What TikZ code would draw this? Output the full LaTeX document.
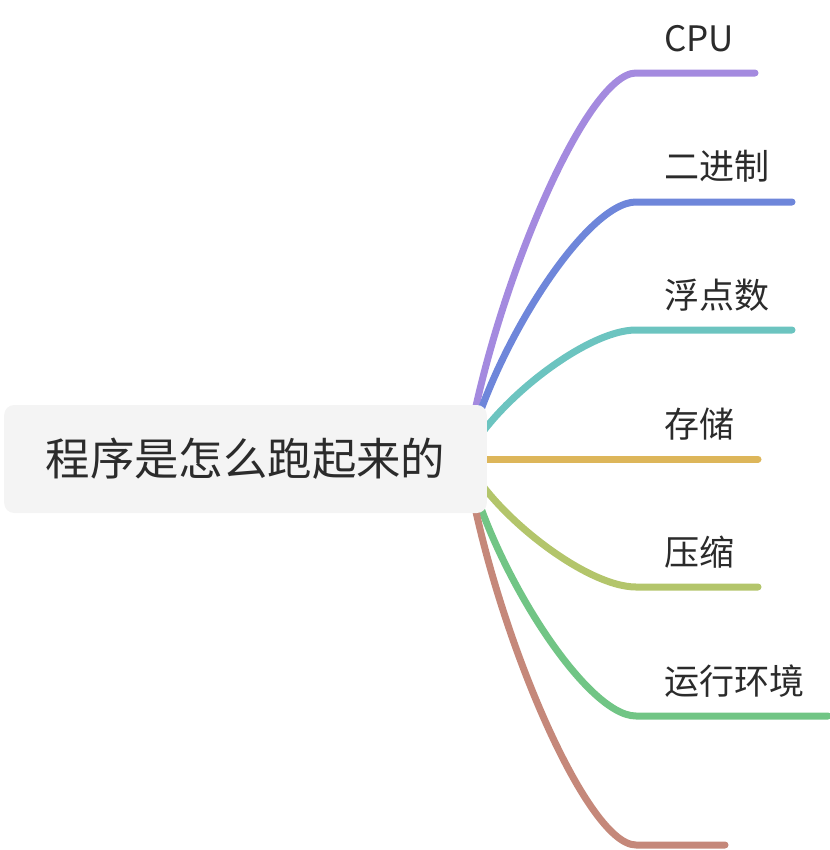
\documentclass[tikz,border=0pt]{standalone}
\usepackage{fontspec}
\setmainfont{Noto Sans CJK SC}
\usetikzlibrary{calc}
\definecolor{cpurple}{HTML}{A48ADF}
\definecolor{cblue}{HTML}{6E86DA}
\definecolor{cteal}{HTML}{6CC4C0}
\definecolor{cgold}{HTML}{DDB65A}
\definecolor{cyg}{HTML}{B3C56B}
\definecolor{cgreen}{HTML}{71C585}
\definecolor{cbrown}{HTML}{C5887A}
\definecolor{rootfill}{HTML}{F4F4F4}
\definecolor{txt}{HTML}{2B2B2B}
\begin{document}
\begin{tikzpicture}[x=0.75pt,y=-0.75pt,
  branch/.style={line width=5.25pt,line cap=round,line join=round},
  rootbox/.style={fill=rootfill,rounded corners=7.5pt,minimum width=362pt,minimum height=81pt,inner sep=0pt,font=\fontsize{33.3}{36}\selectfont,text=txt},
  lbl/.style={anchor=west,inner sep=0pt,font=\fontsize{26.3}{29}\selectfont,text=txt}]
\useasboundingbox (0,0) rectangle (830,850);
\coordinate (hub) at (466,459);
% branch ends
\coordinate (e1) at (755,73);
\coordinate (e2) at (792,202);
\coordinate (e3) at (792,330);
\coordinate (e4) at (758,459);
\coordinate (e5) at (758,587);
\coordinate (e6) at (828,716);
\coordinate (e7) at (725,845);
% curves
\foreach \e/\y/\c in {e1/73/cpurple,e2/202/cblue,e3/330/cteal,e5/587/cyg,e6/716/cgreen,e7/845/cbrown}{
  \draw[branch,\c] (hub) .. controls ($(490,459)+{0.41}*(0,\y-459)$) and (585,\y) .. (636,\y) -- (\e);
}
\draw[branch,cgold] (hub) -- (e4);
% root
\node[rootbox] (root) at (245.5,459) {程序是怎么跑起来的};
% labels
\node[lbl] (l1) at (664,39) {CPU};
\node[lbl] (l2) at (664,166) {二进制};
\node[lbl] (l3) at (664,295) {浮点数};
\node[lbl] (l4) at (664,424) {存储};
\node[lbl] (l5) at (664,552) {压缩};
\node[lbl] (l6) at (664,681) {运行环境};
\end{tikzpicture}
\end{document}
